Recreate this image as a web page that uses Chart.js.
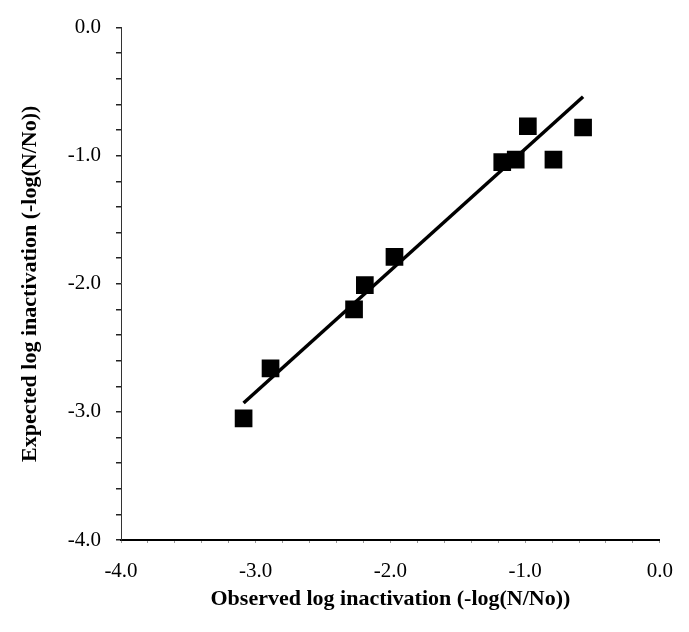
<!DOCTYPE html>
<html>
<head>
<meta charset="utf-8">
<script src="https://cdn.jsdelivr.net/npm/chart.js@4"></script>
<style>
html,body{margin:0;padding:0;background:#fff;}
#wrap{width:689px;height:632px;position:relative;}
</style>
</head>
<body>
<div id="wrap"><canvas id="c" width="689" height="632"></canvas></div>
<script>
// Observed vs expected log inactivation
const observed = [-3.09, -2.89, -2.27, -2.19, -1.97, -1.17, -1.07, -0.98, -0.79, -0.57];
const expected = [-3.05, -2.66, -2.20, -2.01, -1.79, -1.05, -1.03, -0.77, -1.03, -0.78];
const fitX = [-3.09, -0.57];
const fitY = [-2.93, -0.54];
const tickValues = [-4.0, -3.0, -2.0, -1.0, 0.0];
const xTitle = 'Observed log inactivation (-log(N/No))';
const yTitle = 'Expected log inactivation (-log(N/No))';

const pts = observed.map((x, i) => ({x: x, y: expected[i]}));
const fit = fitX.map((x, i) => ({x: x, y: fitY[i]}));

const tickFont = {family: '"Liberation Serif", serif', size: 21};
const titleFont = {family: '"Liberation Serif", serif', size: 22, weight: 'bold'};

function lbl(v) {
  for (const t of tickValues) { if (Math.abs(v - t) < 1e-6) return t.toFixed(1); }
  return '';
}

new Chart(document.getElementById('c'), {
  type: 'scatter',
  data: {
    datasets: [
      {
        type: 'line', data: fit, borderColor: '#000', borderWidth: 3.5,
        pointRadius: 0, fill: false, order: 2
      },
      {
        data: pts, pointStyle: 'rect', pointRadius: 12.5,
        backgroundColor: '#000', borderColor: '#000', borderWidth: 0, order: 1
      }
    ]
  },
  options: {
    responsive: false, animation: false, devicePixelRatio: 1,
    layout: {padding: {top: 24, right: 25, bottom: 0, left: 0}},
    plugins: {legend: {display: false}, tooltip: {enabled: false}},
    scales: {
      x: {
        type: 'linear', min: -4, max: 0,
        afterFit: s => { s.height = 92; },
        border: {display: true, color: '#000', width: 2},
        grid: {drawOnChartArea: false, tickLength: 3, color: '#999', lineWidth: 1},
        ticks: {stepSize: 0.2, autoSkip: false, maxRotation: 0, padding: 16, color: '#000', font: tickFont, callback: lbl},
        title: {display: true, text: xTitle, color: '#000', font: titleFont, padding: {top: 0, bottom: 19}}
      },
      y: {
        type: 'linear', min: -4, max: 0,
        afterFit: s => { s.width = 121; },
        border: {display: true, color: '#333', width: 1, dash: [3, 3]},
        grid: {drawOnChartArea: false, tickLength: 5, color: '#222', lineWidth: 1.5},
        ticks: {stepSize: 0.2, autoSkip: false, padding: 15, color: '#000', font: tickFont, callback: lbl},
        title: {display: true, text: yTitle, color: '#000', font: titleFont, padding: {top: 17, bottom: 0}}
      }
    }
  }
});
</script>
</body>
</html>
